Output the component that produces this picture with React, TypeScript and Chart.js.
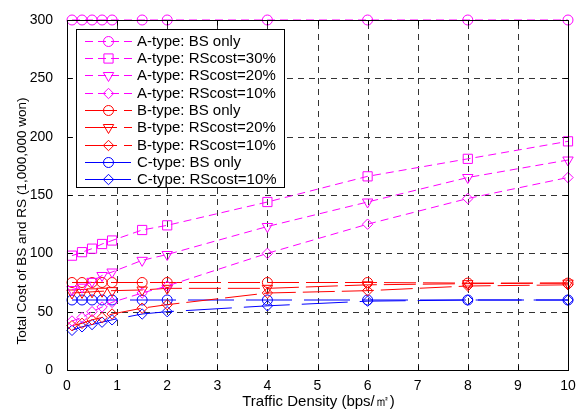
import React, { useEffect, useRef } from 'react';
import { Chart, registerables } from 'chart.js';

Chart.register(...registerables);

// ---------------- data ----------------
const xValues = [0.1, 0.3, 0.5, 0.7, 0.9, 1.5, 2, 4, 6, 8, 10];
const aBsOnly = [300, 300, 300, 300, 300, 300, 300, 300, 300, 300, 300];
const aRs30 = [98, 101, 104, 108, 111, 120, 124, 144, 166, 181, 196];
const aRs20 = [69, 71, 76, 81, 84, 94, 99, 123, 144, 165, 180];
const aRs10 = [42, 45, 50, 54, 58, 66, 72, 100, 125, 147, 165];
const bBsOnly = [75, 75, 75, 75, 75, 75, 75, 75, 75, 74.5, 74.5];
const bRs20 = [66, 66.5, 67, 67.5, 68, 68.6, 70, 70, 73, 74, 74.5];
const bRs10 = [38, 40, 43, 45, 48, 53, 56, 66, 68, 72, 73];
const cBsOnly = [60, 60, 60, 60, 60, 60, 60, 60, 60, 60, 60];
const cRs10 = [34, 37, 39, 41, 43, 48, 50, 55, 59, 60, 60];

const seriesLabels = [
  'A-type: BS only',
  'A-type: RScost=30%',
  'A-type: RScost=20%',
  'A-type: RScost=10%',
  'B-type: BS only',
  'B-type: RScost=20%',
  'B-type: RScost=10%',
  'C-type: BS only',
  'C-type: RScost=10%',
];
const seriesValues = [aBsOnly, aRs30, aRs20, aRs10, bBsOnly, bRs20, bRs10, cBsOnly, cRs10];

const xTickValues = [0, 1, 2, 3, 4, 5, 6, 7, 8, 9, 10];
const yTickValues = [0, 50, 100, 150, 200, 250, 300];

const xTitle = 'Traffic Density (bps/\u33A1)';
const yTitle = 'Total Cost of BS and RS (1,000,000 won)';

// ---------------- styles ----------------
const MAGENTA = '#ff00ff';
const RED = '#ff0000';
const BLUE = '#0000ff';
const FONT = '"Liberation Sans", Arial, Helvetica, sans-serif';

const dashA = [8, 5];
const dashB = [32, 7];
const dashC = [46, 12];

type Marker = 'circle' | 'square' | 'triDown' | 'diamond';
const seriesStyle: { color: string; dash: number[]; marker: Marker }[] = [
  { color: MAGENTA, dash: dashA, marker: 'circle' },
  { color: MAGENTA, dash: dashA, marker: 'square' },
  { color: MAGENTA, dash: dashA, marker: 'triDown' },
  { color: MAGENTA, dash: dashA, marker: 'diamond' },
  { color: RED, dash: dashB, marker: 'circle' },
  { color: RED, dash: dashB, marker: 'triDown' },
  { color: RED, dash: dashB, marker: 'diamond' },
  { color: BLUE, dash: dashC, marker: 'circle' },
  { color: BLUE, dash: dashC, marker: 'diamond' },
];

const markerRadius: Record<Marker, number> = { circle: 5, square: 6.5, triDown: 6, diamond: 5.2 };

function chartPointStyle(m: Marker): { style: string; rotation: number } {
  if (m === 'circle') return { style: 'circle', rotation: 0 };
  if (m === 'square') return { style: 'rect', rotation: 0 };
  if (m === 'triDown') return { style: 'triangle', rotation: 180 };
  return { style: 'rectRot', rotation: 0 };
}

function drawMarker(ctx: CanvasRenderingContext2D, m: Marker, x: number, y: number) {
  const r = markerRadius[m];
  ctx.beginPath();
  if (m === 'circle') {
    ctx.arc(x, y, r, 0, Math.PI * 2);
  } else if (m === 'square') {
    const s = r * Math.SQRT1_2;
    ctx.rect(x - s, y - s, 2 * s, 2 * s);
  } else if (m === 'triDown') {
    ctx.moveTo(x, y + r);
    ctx.lineTo(x - r * 0.866, y - r * 0.5);
    ctx.lineTo(x + r * 0.866, y - r * 0.5);
    ctx.closePath();
  } else {
    ctx.moveTo(x, y - r);
    ctx.lineTo(x + r, y);
    ctx.lineTo(x, y + r);
    ctx.lineTo(x - r, y);
    ctx.closePath();
  }
  ctx.stroke();
}

const decorPlugin = {
  id: 'decor',
  beforeDatasetsDraw(chart: any) {
    const { ctx, chartArea: a, scales } = chart;
    ctx.save();
    ctx.strokeStyle = '#333333';
    ctx.lineWidth = 1;
    ctx.setLineDash([6, 5]);
    for (const v of xTickValues) {
      const px = Math.round(scales.x.getPixelForValue(v)) + 0.5;
      ctx.beginPath();
      ctx.moveTo(px, a.bottom);
      ctx.lineTo(px, a.top);
      ctx.stroke();
    }
    for (const v of yTickValues) {
      const py = Math.round(scales.y.getPixelForValue(v)) + 0.5;
      ctx.beginPath();
      ctx.moveTo(a.left, py);
      ctx.lineTo(a.right, py);
      ctx.stroke();
    }
    ctx.restore();
  },
  afterDatasetsDraw(chart: any) {
    const { ctx, chartArea: a, scales } = chart;
    ctx.save();
    ctx.strokeStyle = '#000';
    ctx.lineWidth = 1;
    ctx.setLineDash([]);
    const l = Math.round(a.left) + 0.5;
    const r = Math.round(a.right) + 0.5;
    const t = Math.round(a.top) + 0.5;
    const b = Math.round(a.bottom) + 0.5;
    ctx.strokeRect(l, t, r - l, b - t);
    const tl = 5;
    for (const v of xTickValues) {
      const px = Math.round(scales.x.getPixelForValue(v)) + 0.5;
      ctx.beginPath();
      ctx.moveTo(px, b);
      ctx.lineTo(px, b - tl);
      ctx.moveTo(px, t);
      ctx.lineTo(px, t + tl);
      ctx.stroke();
    }
    for (const v of yTickValues) {
      const py = Math.round(scales.y.getPixelForValue(v)) + 0.5;
      ctx.beginPath();
      ctx.moveTo(l, py);
      ctx.lineTo(l + tl, py);
      ctx.moveTo(r, py);
      ctx.lineTo(r - tl, py);
      ctx.stroke();
    }
    ctx.restore();
  },
  afterDraw(chart: any) {
    const { ctx, chartArea: a } = chart;
    ctx.save();
    // axis titles
    ctx.fillStyle = '#000';
    ctx.textAlign = 'center';
    ctx.textBaseline = 'middle';
    ctx.font = `15px ${FONT}`;
    ctx.fillText(xTitle, (a.left + a.right) / 2 + 1, 402);
    ctx.save();
    ctx.translate(22, 221);
    ctx.rotate(-Math.PI / 2);
    ctx.font = `13.5px ${FONT}`;
    ctx.fillText(yTitle, 0, 0);
    ctx.restore();

    // legend
    const lx = 76.5, ly = 29.5, lw = 208, lh = 158;
    ctx.fillStyle = '#fff';
    ctx.fillRect(lx, ly, lw, lh);
    ctx.strokeStyle = '#000';
    ctx.lineWidth = 1;
    ctx.setLineDash([]);
    ctx.strokeRect(lx, ly, lw, lh);
    const rowY0 = 40.7;
    const rowStep = 17.33;
    ctx.font = `15px ${FONT}`;
    ctx.textAlign = 'left';
    ctx.textBaseline = 'middle';
    seriesLabels.forEach((label, i) => {
      const st = seriesStyle[i];
      const y = Math.round(rowY0 + i * rowStep) + 0.5;
      ctx.strokeStyle = st.color;
      ctx.lineWidth = 1;
      ctx.setLineDash(st.dash);
      ctx.beginPath();
      ctx.moveTo(85, y);
      ctx.lineTo(132, y);
      ctx.stroke();
      ctx.setLineDash([]);
      drawMarker(ctx, st.marker, 108.5, y);
      ctx.fillStyle = '#000';
      ctx.fillText(label, 137, y + 0.5);
    });
    ctx.restore();
  },
};

export default function App() {
  const canvasRef = useRef<HTMLCanvasElement | null>(null);

  useEffect(() => {
    const canvas = canvasRef.current;
    if (!canvas) return;
    const datasets = seriesLabels.map((label, i) => {
      const st = seriesStyle[i];
      const ps = chartPointStyle(st.marker);
      return {
        label,
        data: xValues.map((x, k) => ({ x, y: seriesValues[i][k] })),
        borderColor: st.color,
        borderWidth: 1,
        borderDash: st.dash,
        backgroundColor: 'rgba(0,0,0,0)',
        pointStyle: ps.style,
        pointRotation: ps.rotation,
        pointRadius: markerRadius[st.marker],
        pointHoverRadius: markerRadius[st.marker],
        pointBorderColor: st.color,
        pointBackgroundColor: 'rgba(0,0,0,0)',
        pointBorderWidth: 1,
        fill: false,
        tension: 0,
        clip: false,
      };
    });

    const chart = new Chart(canvas, {
      type: 'line',
      data: { datasets: datasets as any },
      options: {
        responsive: false,
        animation: false,
        devicePixelRatio: 1,
        layout: { padding: { top: 20, right: 15, left: 0, bottom: 0 } },
        plugins: { legend: { display: false }, tooltip: { enabled: false } },
        scales: {
          x: {
            type: 'linear',
            min: 0,
            max: 10,
            grid: { display: false },
            border: { display: false },
            ticks: {
              stepSize: 1,
              color: '#000',
              padding: 0,
              font: { family: FONT, size: 14 },
              maxRotation: 0,
            },
            afterFit: (scale: any) => {
              scale.height = 45;
            },
          },
          y: {
            type: 'linear',
            min: 0,
            max: 300,
            grid: { display: false },
            border: { display: false },
            ticks: {
              stepSize: 50,
              color: '#000',
              padding: 6,
              font: { family: FONT, size: 14 },
            },
            afterFit: (scale: any) => {
              scale.width = 67;
            },
          },
        },
      },
      plugins: [decorPlugin],
    });
    return () => chart.destroy();
  }, []);

  return (
    <div style={{ position: 'absolute', left: 0, top: 0, width: 583, height: 415, background: '#fff' }}>
      <canvas ref={canvasRef} width={583} height={415} style={{ display: 'block' }} />
    </div>
  );
}
